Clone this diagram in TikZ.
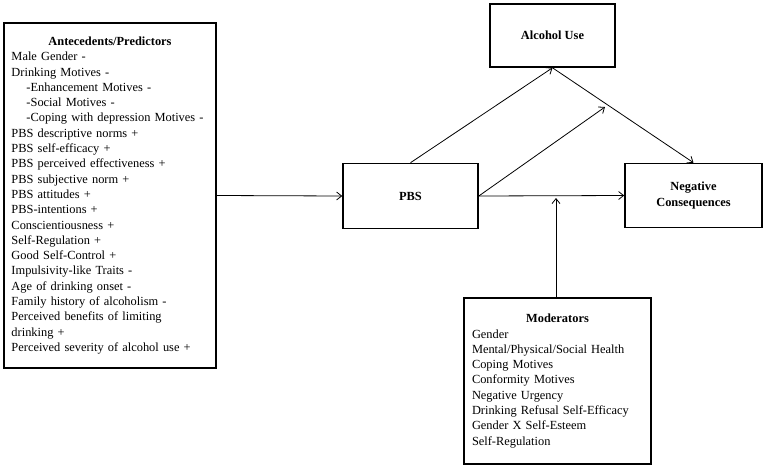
\documentclass[tikz,border=0pt]{standalone}
\usepackage{fontspec}
\setmainfont{Liberation Serif}
\usetikzlibrary{arrows.meta}

\tikzset{
  box/.style={draw, rectangle, line width=1.6pt, inner sep=0pt},
  link/.style={line width=0.8pt, -{Straight Barb[length=5pt,width=8pt]}},
}

\begin{document}
\begin{tikzpicture}[x=1pt, y=-1pt, font=\fontsize{12.4}{15.3}\selectfont]
  \useasboundingbox (0,0) rectangle (764,469);

  % Boxes
  \node[box, minimum width=212pt, minimum height=345pt, text width=197pt] (ante) at (110,195.5) {%
    {\centering\textbf{Antecedents/Predictors}\par}\raggedright
    Male Gender -\\
    Drinking Motives -\\
    \hspace*{15pt}-Enhancement Motives -\\
    \hspace*{15pt}-Social Motives -\\
    \hspace*{15pt}-Coping with depression Motives -\\
    PBS descriptive norms +\\
    PBS self-efficacy +\\
    PBS perceived effectiveness +\\
    PBS subjective norm +\\
    PBS attitudes +\\
    PBS-intentions +\\
    Conscientiousness +\\
    Self-Regulation +\\
    Good Self-Control +\\
    Impulsivity-like Traits -\\
    Age of drinking onset -\\
    Family history of alcoholism -\\
    Perceived benefits of limiting\\
    drinking +\\
    Perceived severity of alcohol use +};
  \node[box, minimum width=135pt, minimum height=65pt] (pbs) at (410.5,196) {\textbf{PBS}};
  \node[box, minimum width=125pt, minimum height=63pt] (alc) at (552.5,35.5) {\textbf{Alcohol Use}};
  \node[box, minimum width=137pt, minimum height=64pt, align=center] (neg) at (693.5,195.5)
    {\textbf{Negative}\\\textbf{Consequences}};
  \node[box, minimum width=187pt, minimum height=166pt, text width=171pt] (mod) at (557.5,381) {%
    {\centering\textbf{Moderators}\par}\raggedright
    Gender\\
    Mental/Physical/Social Health\\
    Coping Motives\\
    Conformity Motives\\
    Negative Urgency\\
    Drinking Refusal Self-Efficacy\\
    Gender X Self-Esteem\\
    Self-Regulation};

  % Arrows
  \coordinate (tip) at (605,107);
  \coordinate (hit) at (556,198);
  \draw[link] (ante.east) -- (pbs.west);
  \draw[link] (pbs.north) -- (alc.south);
  \draw[link] (alc.south) -- (neg.north);
  \draw[link] (pbs.east) -- (tip);
  \draw[link] (pbs.east) -- (neg.west);
  \draw[link] (mod.north -| hit) -- (hit);
\end{tikzpicture}
\end{document}
